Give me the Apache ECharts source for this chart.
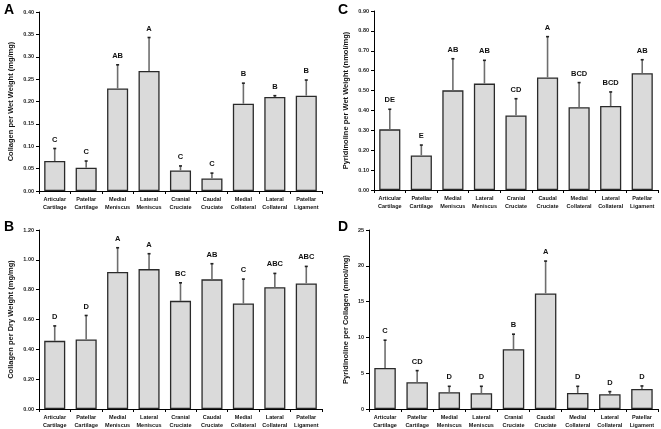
<!DOCTYPE html>
<html>
<head>
<meta charset="utf-8">
<script src="https://cdn.jsdelivr.net/npm/echarts@6/dist/echarts.min.js"></script>
<style>html,body{margin:0;padding:0;background:#fff}#c{width:661px;height:429px}</style>
</head>
<body>
<div id="c"></div>
<script>
var categories = ['Articular\nCartilage','Patellar\nCartilage','Medial\nMeniscus','Lateral\nMeniscus','Cranial\nCruciate','Caudal\nCruciate','Medial\nCollateral','Lateral\nCollateral','Patellar\nLigament'];

var collagenWet = [0.067,0.052,0.229,0.268,0.046,0.028,0.195,0.210,0.213];
var collagenWetSD = [0.028,0.015,0.053,0.075,0.010,0.012,0.046,0.003,0.035];
var collagenWetGroups = ['C','C','AB','A','C','C','B','B','B'];

var collagenDry = [0.457,0.466,0.918,0.938,0.725,0.869,0.707,0.817,0.842];
var collagenDrySD = [0.100,0.161,0.163,0.103,0.121,0.105,0.164,0.092,0.114];
var collagenDryGroups = ['D','D','A','A','BC','AB','C','ABC','ABC'];

var pyrWet = [0.305,0.174,0.501,0.535,0.375,0.566,0.416,0.422,0.587];
var pyrWetSD = [0.101,0.052,0.159,0.117,0.084,0.205,0.124,0.071,0.068];
var pyrWetGroups = ['DE','E','AB','AB','CD','A','BCD','BCD','AB'];

var pyrCol = [5.74,3.73,2.33,2.19,8.35,16.14,2.24,2.05,2.80];
var pyrColSD = [3.87,1.63,0.84,0.98,2.10,4.52,0.93,0.38,0.42];
var pyrColGroups = ['C','CD','D','D','B','A','D','D','D'];

var panels = [
  {letter:'A', name:'Collagen per Wet Weight (mg/mg)', vals:collagenWet, sd:collagenWetSD, grp:collagenWetGroups, max:0.40, interval:0.05, dec:2, grid:{left:39, top:12, width:283, height:179}, nameGap:24, lx:4, ly:3},
  {letter:'B', name:'Collagen per Dry Weight (mg/mg)', vals:collagenDry, sd:collagenDrySD, grp:collagenDryGroups, max:1.20, interval:0.20, dec:2, grid:{left:39, top:230, width:283, height:179}, nameGap:24, lx:4, ly:220},
  {letter:'C', name:'Pyridinoline per Wet Weight (nmol/mg)', vals:pyrWet, sd:pyrWetSD, grp:pyrWetGroups, max:0.90, interval:0.10, dec:2, grid:{left:374, top:11, width:284, height:179}, nameGap:24, lx:338, ly:3},
  {letter:'D', name:'Pyridinoline per Collagen (nmol/mg)', vals:pyrCol, sd:pyrColSD, grp:pyrColGroups, max:25, interval:5, dec:0, grid:{left:369, top:230, width:289, height:179}, nameGap:19, lx:338, ly:220}
];

var FONT = '"Liberation Sans", Arial, sans-serif';
var option = {animation:false, backgroundColor:'#fff', grid:[], xAxis:[], yAxis:[], series:[], graphic:[]};

panels.forEach(function(p, i){
  option.grid.push(p.grid);
  option.xAxis.push({
    type:'category', gridIndex:i, data:categories,
    axisLine:{lineStyle:{color:'#000', width:1}},
    axisTick:{show:true, length:3, lineStyle:{color:'#000'}},
    axisLabel:{interval:0, fontSize:5.5, fontWeight:'bold', color:'#111', fontFamily:FONT, margin:4, lineHeight:8}
  });
  option.yAxis.push({
    type:'value', gridIndex:i, min:0, max:p.max, interval:p.interval,
    name:p.name, nameLocation:'middle', nameGap:p.nameGap,
    nameTextStyle:{fontSize:7.5, fontWeight:'bold', color:'#111', fontFamily:FONT},
    splitLine:{show:false},
    axisLine:{show:true, lineStyle:{color:'#000', width:1}},
    axisTick:{show:true, length:3, lineStyle:{color:'#000'}},
    axisLabel:{fontSize:5.5, fontWeight:'bold', color:'#222', fontFamily:FONT, margin:5,
      formatter:(function(d){return function(v){return v.toFixed(d);};})(p.dec)}
  });
  option.series.push({
    type:'bar', xAxisIndex:i, yAxisIndex:i, data:p.vals, barCategoryGap:'33%',
    itemStyle:{color:'#dadada', borderColor:'#2a2a2a', borderWidth:1.3},
    z:2
  });
  var errData = p.vals.map(function(v, k){ return [k, v, v + p.sd[k], p.grp[k]]; });
  option.series.push({
    type:'custom', xAxisIndex:i, yAxisIndex:i, data:errData, z:3,
    renderItem:function(params, api){
      var base = api.coord([api.value(0), api.value(1)]);
      var top = api.coord([api.value(0), api.value(2)]);
      var label = p.grp[params.dataIndex];
      return {type:'group', children:[
        {type:'line', shape:{x1:base[0], y1:base[1], x2:top[0], y2:top[1]}, style:{stroke:'#6e6e6e', lineWidth:1.6}},
        {type:'line', shape:{x1:top[0]-1.5, y1:top[1], x2:top[0]+1.5, y2:top[1]}, style:{stroke:'#222', lineWidth:1.6}},
        {type:'text', style:{x:top[0], y:top[1]-5, text:label, textAlign:'center', textVerticalAlign:'bottom', fontSize:7.5, fontWeight:'bold', fill:'#111', fontFamily:FONT}}
      ]};
    }
  });
  option.graphic.push({type:'text', left:p.lx, top:p.ly, style:{text:p.letter, fontSize:14, fontWeight:'bold', fill:'#000', fontFamily:FONT}});
});

var chart = echarts.init(document.getElementById('c'));
chart.setOption(option);
</script>
</body>
</html>
